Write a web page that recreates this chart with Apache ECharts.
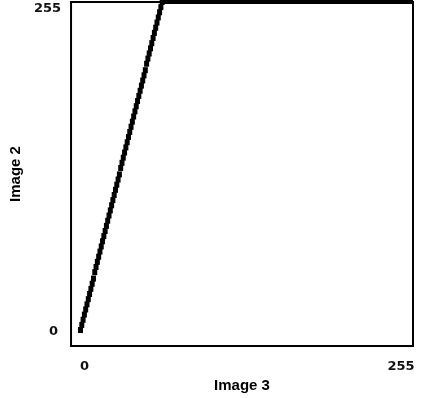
<!DOCTYPE html>
<html>
<head>
<meta charset="utf-8">
<script src="https://cdn.jsdelivr.net/npm/echarts@6/dist/echarts.min.js"></script>
<style>html,body{margin:0;padding:0;background:#fff;}#c{width:421px;height:398px;}</style>
</head>
<body>
<div id="c"></div>
<script>
// Image 3 intensity (x) for the rising part
var rampX = [0,1,2,3,4,5,6,7,8,9,10,11,12,13,14,15,16,17,18,19,20,21,22,23,24,25,26,27,28,29,30,31,
  32,33,34,35,36,37,38,39,40,41,42,43,44,45,46,47,48,49,50,51,52,53,54,55,56,57,58,59,60,61,62,63];
// Image 2 intensity (y) for the rising part
var rampY = [0,4,8,12,16,20,24,28,32,36,40,45,49,53,57,61,65,69,73,77,81,85,89,93,97,101,105,109,113,117,121,126,
  130,134,138,142,146,150,154,158,162,166,170,174,178,182,186,190,194,198,202,207,211,215,219,223,227,231,235,239,243,247,251,255];
// saturated plateau (Image 2 = 255)
var plateauX = [63, 255];
var plateauY = [255, 255];
var xTicks = [0, 255];
var yTicks = [0, 255];
var xName = 'Image 3';
var yName = 'Image 2';

var rampData = rampX.map(function (x, i) { return [x, rampY[i]]; });
var plateauData = plateauX.map(function (x, i) { return [x, plateauY[i]]; });

var lab = {fontFamily: 'DejaVu Sans', fontSize: 13, fontWeight: 'bold', color: '#111'};
function rich(pa, pb) {
  return {a: Object.assign({padding: pa}, lab), b: Object.assign({padding: pb}, lab)};
}

var chart = echarts.init(document.getElementById('c'), null, {renderer: 'canvas'});
chart.setOption({
  animation: false,
  backgroundColor: '#fff',
  grid: {left: 70, right: 8, top: 2, bottom: 52, show: true, borderColor: '#000', borderWidth: 2, backgroundColor: '#fff'},
  xAxis: {
    type: 'value', min: -7.3, max: 256.5,
    name: xName, nameLocation: 'middle', nameGap: 28,
    nameTextStyle: {fontFamily: 'Liberation Sans, Arial, sans-serif', fontWeight: 'bold', fontSize: 15, color: '#000'},
    axisLine: {show: false}, axisTick: {show: false}, splitLine: {show: false},
    axisLabel: Object.assign({
      customValues: xTicks, margin: 14,
      formatter: function (v) { return v === 0 ? '{a|0}' : '{b|' + v + '}'; },
      rich: rich([0, 0, 0, 8], [0, 20, 0, 0])
    }, lab)
  },
  yAxis: {
    type: 'value', min: -12.4, max: 255,
    name: yName, nameLocation: 'middle', nameGap: 48,
    nameTextStyle: {fontFamily: 'Liberation Sans, Arial, sans-serif', fontWeight: 'bold', fontSize: 15, color: '#000'},
    axisLine: {show: false}, axisTick: {show: false}, splitLine: {show: false},
    axisLabel: Object.assign({
      customValues: yTicks, margin: 10,
      formatter: function (v) { return v === 0 ? '{a|0}' : '{b|' + v + '}'; },
      rich: rich([4, 3, 0, 0], [13, 0, 0, 0])
    }, lab)
  },
  series: [
    {type: 'line', data: plateauData, symbol: 'none', clip: false,
     lineStyle: {color: '#000', width: 4, cap: 'square'}},
    {type: 'scatter', data: rampData, symbol: 'rect', symbolSize: [5, 6], clip: false,
     itemStyle: {color: '#000', opacity: 1}}
  ]
});
</script>
</body>
</html>
